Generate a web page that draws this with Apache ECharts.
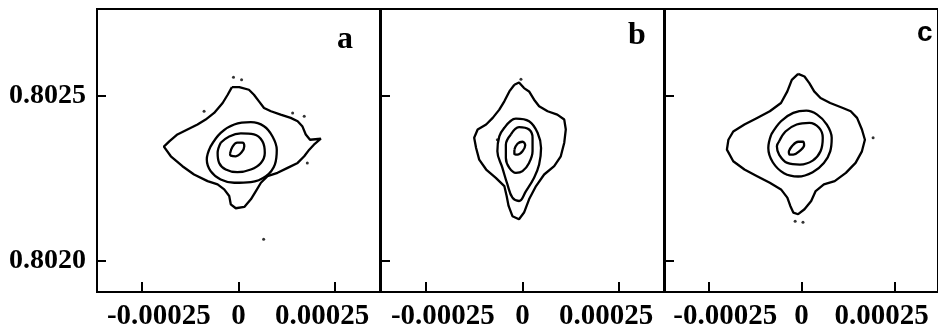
<!DOCTYPE html>
<html>
<head>
<meta charset="utf-8">
<script src="https://cdn.jsdelivr.net/npm/echarts@6/dist/echarts.min.js"></script>
<style>
  html, body { margin: 0; padding: 0; background: #fff; }
  #chart { width: 938px; height: 331px; }
</style>
</head>
<body>
<div id="chart"></div>
<script>
// x in units of 1e-5, y in units of 1e-5 above 0.8
const xTicks = [-25, 0, 25]
const yTicks = [200, 250]
const panelNames = ['a', 'b', 'c']

// panel a contours (outer -> inner)
const a1 = [[-1.7,252.6],[0.2,252.6],[2.7,251.8],[4.0,250.3],[5.3,248.3],[6.6,246.3],[8.4,245.3],[10.9,244.3],[13.5,243.3],[15.3,242.3],[16.5,240.8],[17.4,238.3],[18.5,236.7],[21.3,237.0],[19.5,235.2],[18.3,233.7],[17.0,231.7],[15.3,229.7],[12.7,228.2],[10.1,226.7],[7.5,225.7],[5.8,223.7],[4.5,221.2],[3.2,218.7],[1.5,216.4],[-0.7,216.0],[-2.0,217.2],[-2.4,219.7],[-3.7,221.7],[-5.4,223.2],[-8.0,224.2],[-11.5,226.2],[-14.5,228.7],[-17.5,231.7],[-19.3,234.6],[-17.9,236.2],[-15.8,238.3],[-13.2,239.8],[-10.6,241.3],[-8.5,242.8],[-6.3,244.8],[-4.1,247.8],[-2.8,250.3]]
const a2 = [[-7.2,234.7],[-4.6,238.8],[-1.1,241.3],[3.2,242.0],[6.6,240.8],[8.8,237.7],[9.9,233.7],[9.4,229.2],[7.1,225.7],[3.2,223.9],[-1.1,223.7],[-4.6,224.7],[-7.2,227.2],[-8.2,230.7]]
const a3 = [[-4.6,235.8],[-2.4,237.7],[0.6,238.6],[4.0,238.3],[6.2,236.2],[6.8,232.7],[5.8,229.7],[3.2,227.7],[-0.3,226.9],[-3.3,227.7],[-5.0,229.7],[-5.4,232.7]]
const a4 = [[-2.2,232.5],[-1.6,234.5],[-0.3,235.8],[1.0,235.8],[1.5,234.7],[0.8,232.9],[-0.7,231.7],[-2.0,231.9]]
const aSpecks = [[-1.3,255.6],[0.8,254.8],[-8.9,245.3],[14.0,244.8],[17.0,243.8],[17.8,229.7],[6.5,206.6]]

// panel b contours
const b1 = [[-2.1,253.3],[-0.9,254.0],[0.4,252.3],[1.7,251.3],[3.0,248.8],[4.3,246.8],[6.5,245.3],[9.0,244.3],[10.8,242.8],[11.2,239.8],[10.8,235.8],[9.9,231.7],[8.2,228.7],[5.6,226.2],[3.5,222.7],[1.7,218.7],[0.4,214.7],[-0.9,212.7],[-2.6,213.6],[-3.6,216.7],[-4.1,219.7],[-4.7,222.7],[-6.9,225.2],[-9.4,227.7],[-11.2,230.7],[-12.0,234.2],[-12.5,237.3],[-11.6,239.8],[-9.4,241.3],[-7.7,243.3],[-6.0,245.8],[-4.7,248.3],[-3.4,251.3]]
const b2 = [[-4.7,240.3],[-1.7,243.1],[1.7,242.3],[3.9,238.8],[4.8,234.2],[4.3,229.2],[3.0,225.2],[0.9,221.2],[-0.9,218.2],[-2.6,219.2],[-3.9,223.2],[-5.2,228.2],[-6.5,233.2],[-6.0,237.7]]
const b3 = [[-3.0,238.3],[-0.9,240.5],[1.7,239.8],[2.6,237.3],[2.6,233.2],[1.7,229.7],[0.0,227.2],[-1.7,226.7],[-3.4,228.2],[-4.3,231.2],[-4.3,235.2]]
const b4 = [[-2.1,233.7],[-1.3,235.5],[0.0,236.1],[0.7,235.0],[0.0,233.2],[-1.3,232.2],[-2.1,232.4]]
const bSpecks = [[-0.4,255.0],[-6.5,236.7]]

// panel c contours
const c1 = [[-0.9,256.6],[0.8,255.8],[2.1,253.8],[3.4,251.3],[5.1,249.3],[7.7,247.8],[11.1,246.3],[13.2,245.3],[14.9,243.3],[16.2,239.8],[17.0,236.7],[16.2,233.2],[14.5,229.7],[11.9,226.7],[8.9,224.2],[6.0,223.2],[3.8,221.2],[2.6,218.2],[0.8,215.7],[-0.9,214.2],[-2.2,214.7],[-3.0,216.7],[-3.8,219.2],[-5.5,221.7],[-8.5,223.7],[-11.9,225.7],[-15.3,227.7],[-18.3,230.2],[-20.0,233.7],[-19.6,236.7],[-18.3,239.2],[-15.3,241.3],[-11.9,243.3],[-8.5,245.3],[-5.5,247.8],[-3.8,251.3],[-2.6,254.8]]
const c2 = [[-8.1,238.3],[-5.5,242.3],[-2.2,244.8],[1.3,245.5],[4.2,244.3],[6.8,241.3],[8.1,237.3],[7.7,233.2],[6.0,229.7],[3.0,226.9],[-0.9,225.6],[-4.7,226.6],[-7.7,229.9],[-8.9,234.2]]
const c3 = [[-6.0,236.2],[-4.3,239.2],[-1.3,241.3],[2.1,241.8],[4.7,240.3],[5.7,237.3],[5.1,233.2],[3.0,230.4],[-0.4,229.2],[-3.8,229.7],[-6.0,232.2],[-6.6,234.7]]
const c4 = [[-3.4,233.2],[-2.6,234.7],[-0.9,236.1],[0.4,236.1],[0.7,235.0],[-0.4,233.4],[-2.2,232.2],[-3.2,232.2]]
const cSpecks = [[19.2,237.3],[-1.7,212.1],[0.4,211.8]]

const contours = [[a1, a2, a3, a4], [b1, b2, b3, b4], [c1, c2, c3, c4]]
const specks = [aSpecks, bSpecks, cSpecks]

const chart = echarts.init(document.getElementById('chart'))

const labelFont = 'Liberation Serif'
const gridLefts = [97, 381, 665]

let grids = [], xAxes = [], yAxes = [], series = []
gridLefts.forEach((left, i) => {
  grids.push({
    left: left, top: 9, width: 283, height: 284,
    show: true, borderColor: '#000', borderWidth: 2, backgroundColor: 'transparent'
  })
  xAxes.push({
    gridIndex: i, type: 'value', min: -36.6, max: 36.6,
    axisLine: { show: true, onZero: false, lineStyle: { color: '#000', width: 2 } },
    axisTick: { show: true, inside: true, length: 10, customValues: xTicks, lineStyle: { color: '#000', width: 2 } },
    splitLine: { show: false },
    axisLabel: {
      customValues: xTicks, margin: 10, color: '#000', fontFamily: labelFont, fontSize: 29, fontWeight: 'bold',
      formatter: v => {
        if (v === 0) return '{m|0}'
        const s = (v * 1e-5).toFixed(5)
        return v < 0 ? '{l|' + s + '}' : '{r|' + s + '}'
      },
      rich: {
        l: { fontFamily: labelFont, fontSize: 29, fontWeight: 'bold', color: '#000', padding: [0, 0, 0, 34] },
        m: { fontFamily: labelFont, fontSize: 29, fontWeight: 'bold', color: '#000' },
        r: { fontFamily: labelFont, fontSize: 29, fontWeight: 'bold', color: '#000', padding: [0, 26, 0, 0] }
      }
    }
  })
  yAxes.push({
    gridIndex: i, type: 'value', min: 190.7, max: 276.2,
    axisLine: { show: true, onZero: false, lineStyle: { color: '#000', width: 2 } },
    axisTick: { show: true, inside: true, length: 9, customValues: yTicks, lineStyle: { color: '#000', width: 2 } },
    splitLine: { show: false },
    axisLabel: {
      show: i === 0, customValues: yTicks, margin: 11, color: '#000',
      fontFamily: labelFont, fontSize: 28, fontWeight: 'bold',
      formatter: v => (0.8 + v * 1e-5).toFixed(4)
    }
  })
  contours[i].forEach(pts => {
    series.push({
      type: 'line', xAxisIndex: i, yAxisIndex: i,
      data: pts.concat([pts[0]]),
      showSymbol: false, smooth: pts.length < 20 ? 0.4 : false,
      lineStyle: { color: '#000', width: 2.3 },
      silent: true
    })
  })
  series.push({
    type: 'scatter', xAxisIndex: i, yAxisIndex: i,
    data: specks[i], symbolSize: 3,
    itemStyle: { color: '#000' }, silent: true
  })
})

const titles = [
  { text: panelNames[0], left: 332, top: 19, textStyle: { fontFamily: labelFont, fontWeight: 'bold', fontSize: 32, color: '#000' } },
  { text: panelNames[1], left: 623, top: 15, textStyle: { fontFamily: labelFont, fontWeight: 'bold', fontSize: 32, color: '#000' } },
  { text: panelNames[2], left: 912, top: 14, textStyle: { fontFamily: 'Liberation Sans', fontWeight: 'bold', fontSize: 28, color: '#000' } }
]

chart.setOption({
  animation: false,
  backgroundColor: '#fff',
  title: titles,
  grid: grids,
  xAxis: xAxes,
  yAxis: yAxes,
  series: series
})
</script>
</body>
</html>
